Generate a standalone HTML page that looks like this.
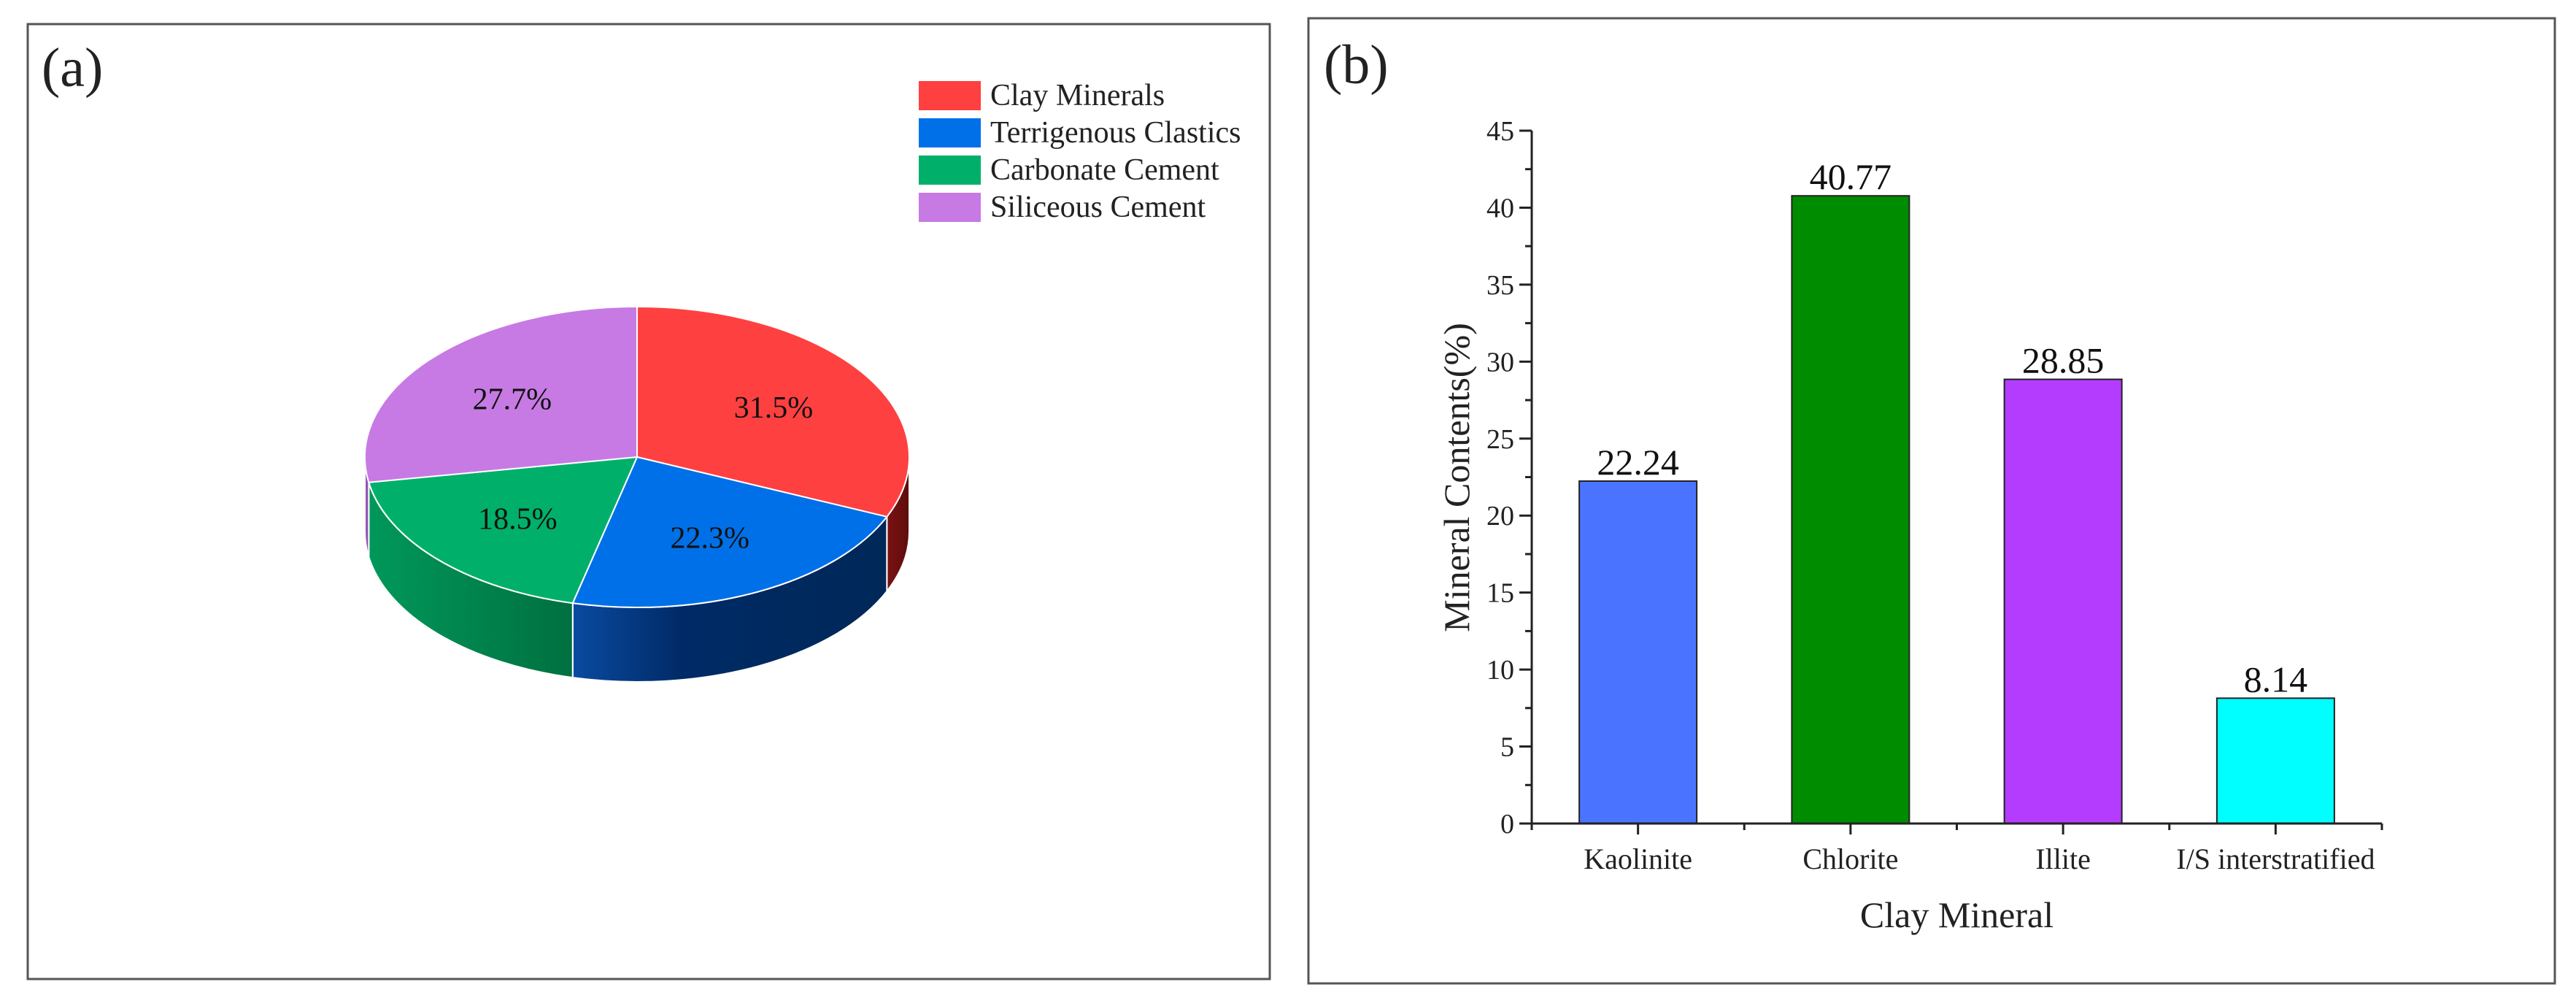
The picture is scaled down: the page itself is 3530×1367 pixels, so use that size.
<!DOCTYPE html>
<html><head><meta charset="utf-8"><title>Mineral composition</title>
<style>
html,body{margin:0;padding:0;background:#fff;}
svg{display:block;font-family:"Liberation Serif","Times New Roman",serif;}
</style></head>
<body>
<svg id="fig" width="3530" height="1367" viewBox="0 0 3530 1367" xmlns="http://www.w3.org/2000/svg">
<defs>
  <linearGradient id="gRed" x1="0" x2="1" y1="0" y2="0"><stop offset="0" stop-color="#7a1212"/><stop offset="1" stop-color="#5e0c0c"/></linearGradient>
  <linearGradient id="gBlue" x1="0" x2="1" y1="0" y2="0"><stop offset="0" stop-color="#0a4aa0"/><stop offset="0.35" stop-color="#002a66"/><stop offset="1" stop-color="#002858"/></linearGradient>
  <linearGradient id="gGreen" x1="0" x2="1" y1="0" y2="0"><stop offset="0" stop-color="#00985a"/><stop offset="1" stop-color="#007040"/></linearGradient>
  <linearGradient id="gPurple" x1="0" x2="1" y1="0" y2="0"><stop offset="0" stop-color="#a060c0"/><stop offset="1" stop-color="#8a4aa8"/></linearGradient>
</defs>
<rect x="38" y="33" width="1702" height="1308" fill="#fff" stroke="#555" stroke-width="3"/>
<text x="57" y="118" font-size="76" fill="#222">(a)</text>
<g id="pie"></g>
<g id="legend"></g>

<rect x="1793" y="25" width="1708" height="1322" fill="#fff" stroke="#555" stroke-width="3"/>
<text x="1814" y="114" font-size="76" fill="#222">(b)</text>
<g id="bars"></g>
</svg>
<script>
// ---- Pie data ----
const pieLabels = ["Clay Minerals","Terrigenous Clastics","Carbonate Cement","Siliceous Cement"];
const pieValues = [31.5, 22.3, 18.5, 27.7];
const pieTop = ["#ff4040","#0070e8","#00b06a","#c77ae4"];
const pieSide = ["url(#gRed)","url(#gBlue)","url(#gGreen)","url(#gPurple)"];

// ---- Bar data ----
const categories = ["Kaolinite","Chlorite","Illite","I/S interstratified"];
const values = [22.24, 40.77, 28.85, 8.14];
const yTicks = [0,5,10,15,20,25,30,35,40,45];
const barColors = ["#4a74ff","#008c00","#b43cff","#00ffff"];

const NS = "http://www.w3.org/2000/svg";
function mk(tag, attrs, parent){ const e=document.createElementNS(NS,tag); for(const k in attrs) e.setAttribute(k,attrs[k]); parent.appendChild(e); return e; }

// ---- Pie ----
(function(){
  const g=document.getElementById('pie');
  const cx=873, cy=626, rx=373, ry=206, depth=102;
  const total=pieValues.reduce((a,b)=>a+b,0);
  const P=(t,dy)=>[cx+rx*Math.sin(t), cy-ry*Math.cos(t)+(dy||0)];
  let acc=0; const spans=[];
  pieValues.forEach(v=>{ const a0=acc/total*2*Math.PI; acc+=v; const a1=acc/total*2*Math.PI; spans.push([a0,a1]); });
  // sides
  spans.forEach((s,i)=>{
    const t0=Math.max(s[0],Math.PI/2), t1=Math.min(s[1],1.5*Math.PI);
    if(t1<=t0) return;
    const a=P(t0), b=P(t1), c=P(t1,depth), d=P(t0,depth);
    const p=mk('path',{d:`M${a} A${rx} ${ry} 0 0 1 ${b} L${c} A${rx} ${ry} 0 0 0 ${d} Z`,fill:pieSide[i],stroke:"#fff","stroke-width":2},g);
    
    
  });
  // tops
  spans.forEach((s,i)=>{
    const a=P(s[0]), b=P(s[1]); const large=(s[1]-s[0])>Math.PI?1:0;
    const p=mk('path',{d:`M${cx},${cy} L${a} A${rx} ${ry} 0 ${large} 1 ${b} Z`,fill:pieTop[i],stroke:"#fff","stroke-width":2},g);
    
    
  });
  spans.forEach((s,i)=>{
    const m=(s[0]+s[1])/2; const x=cx+0.6*rx*Math.sin(m), y=cy-0.6*ry*Math.cos(m);
    const t=mk('text',{x:x,y:y+14,"font-size":42,"text-anchor":"middle",fill:"#111"},g);
    t.textContent=pieValues[i].toFixed(1)+"%";
    
    
  });
  const lg=document.getElementById('legend');
  pieLabels.forEach((l,i)=>{
    const y=111+i*51;
    const r=mk('rect',{x:1259,y:y,width:85,height:40,fill:pieTop[i]},lg);
    
    
    const t=mk('text',{x:1357,y:y+33,"font-size":42,fill:"#222"},lg);
    t.textContent=l;
    
    
  });
})();

// ---- Bars ----
(function(){
  const g=document.getElementById('bars');
  const x0=2099, x1=3264, y0=1128, yTop=179, ymax=45;
  const yScale=v=>y0-(v/ymax)*(y0-yTop);
  const band=(x1-x0)/categories.length;
  const xScale=i=>x0+band*(i+0.5);
  const bw=161;
  values.forEach((v,i)=>{
    const r=mk('rect',{x:xScale(i)-bw/2,y:yScale(v),width:bw,height:y0-yScale(v),fill:barColors[i],stroke:"#222","stroke-width":2},g);
    
    
    const t=mk('text',{x:xScale(i),y:yScale(v)-9,"font-size":50,"text-anchor":"middle",fill:"#111"},g);
    t.textContent=v.toFixed(2);
    
    
    const c=mk('text',{x:xScale(i),y:1190,"font-size":40,"text-anchor":"middle",fill:"#222"},g);
    c.textContent=categories[i];
    
    
    const tk=mk('line',{x1:xScale(i),x2:xScale(i),y1:y0,y2:y0+15,stroke:"#222","stroke-width":3},g);
    
    
  });
  for(let i=0;i<=categories.length;i++){
    const x=x0+band*i;
    const tk=mk('line',{x1:x,x2:x,y1:y0,y2:y0+9,stroke:"#222","stroke-width":3},g);
    
    
  }
  yTicks.forEach(v=>{
    const y=yScale(v);
    const l=mk('line',{x1:x0-17,x2:x0,y1:y,y2:y,stroke:"#222","stroke-width":3},g);
    
    
    const t=mk('text',{x:x0-24,y:y+13,"font-size":38,"text-anchor":"end",fill:"#222"},g);
    t.textContent=v;
    
    
    if(v<ymax){
      const ym=yScale(v+2.5);
      const m=mk('line',{x1:x0-9,x2:x0,y1:ym,y2:ym,stroke:"#222","stroke-width":3},g);
      
      
    }
  });
  const ya=mk('line',{x1:x0,x2:x0,y1:yTop,y2:y0,stroke:"#222","stroke-width":3},g);
  
  
  const xa=mk('line',{x1:x0-2,x2:x1,y1:y0,y2:y0,stroke:"#222","stroke-width":3},g);
  
  
  const xt=mk('text',{x:(x0+x1)/2,y:1270,"font-size":50,"text-anchor":"middle",fill:"#222"},g);
  xt.textContent="Clay Mineral";
  
  
  const yt=mk('text',{x:0,y:0,"font-size":50,"text-anchor":"middle",fill:"#222",transform:"translate(2013,654) rotate(-90)"},g);
  yt.textContent="Mineral Contents(%)";
  
  
})();
</script>
</body></html>
